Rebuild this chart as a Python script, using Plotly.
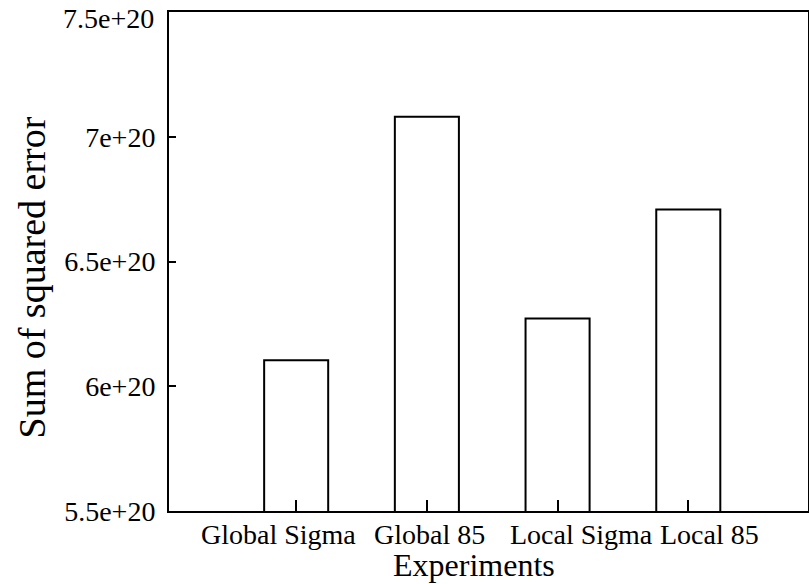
import plotly.graph_objects as go

experiments = ["Global Sigma", "Global 85", "Local Sigma", "Local 85"]
sse = [6.104e20, 7.08e20, 6.272e20, 6.708e20]
y_ticks = [5.5e20, 6e20, 6.5e20, 7e20, 7.5e20]
y_tick_labels = ["5.5e+20", "6e+20", "6.5e+20", "7e+20", "7.5e+20"]
x_title = "Experiments"
y_title = "Sum of squared error"

# layout-only: horizontal nudges of category labels (px), as in the reference
label_shift = [-18, 3, 24, 21]

font_family = "Liberation Serif, Times New Roman, serif"
positions = list(range(len(experiments)))

fig = go.Figure()
fig.add_trace(go.Bar(
    x=positions,
    y=sse,
    width=0.49,
    marker=dict(color="white", line=dict(color="black", width=2)),
    showlegend=False,
))

annotations = []
for pos, name, sh in zip(positions, experiments, label_shift):
    annotations.append(dict(
        x=pos, xref="x", y=0, yref="paper", text=name, showarrow=False,
        xanchor="center", yanchor="top", xshift=sh, yshift=-6,
        font=dict(family=font_family, size=28, color="black"),
    ))
annotations.append(dict(
    x=0.5, xref="paper", y=0, yref="paper", text=x_title, showarrow=False,
    xanchor="center", yanchor="top", xshift=-15, yshift=-34,
    font=dict(family=font_family, size=32, color="black"),
))
annotations.append(dict(
    x=0, xref="paper", y=0.5, yref="paper", text=y_title, showarrow=False,
    xanchor="center", yanchor="middle", xshift=-138, yshift=-16, textangle=-90,
    font=dict(family=font_family, size=38, color="black"),
))
# top y tick label sits a little below its tick, as in the reference
annotations.append(dict(
    x=0, xref="paper", y=y_ticks[-1], yref="y", text=y_tick_labels[-1], showarrow=False,
    xanchor="right", yanchor="middle", xshift=-13, yshift=-6,
    font=dict(family=font_family, size=28, color="black"),
))

fig.update_layout(
    width=809, height=584,
    margin=dict(l=169, r=1, t=12, b=73),
    paper_bgcolor="white", plot_bgcolor="white",
    font=dict(family=font_family, color="black", size=24),
    annotations=annotations,
    xaxis=dict(
        range=[-0.973, 3.916],
        tickmode="array",
        tickvals=positions,
        showticklabels=False,
        ticks="inside", ticklen=11, tickwidth=1.5, tickcolor="black",
        showline=True, linecolor="black", linewidth=2, mirror=True,
        showgrid=False, zeroline=False,
        automargin=False,
    ),
    yaxis=dict(
        range=[5.4999e20, 7.5001e20],
        tickmode="array",
        tickvals=y_ticks,
        ticktext=y_tick_labels[:-1] + [""],
        ticks="inside", ticklen=7, tickwidth=1.5, tickcolor="black",
        showline=True, linecolor="black", linewidth=2, mirror=True,
        showgrid=False, zeroline=False,
        tickfont=dict(size=28),
        ticklabelstandoff=6,
        ticklabeloverflow="allow",
        automargin=False,
    ),
)

fig.write_html("out.html")
